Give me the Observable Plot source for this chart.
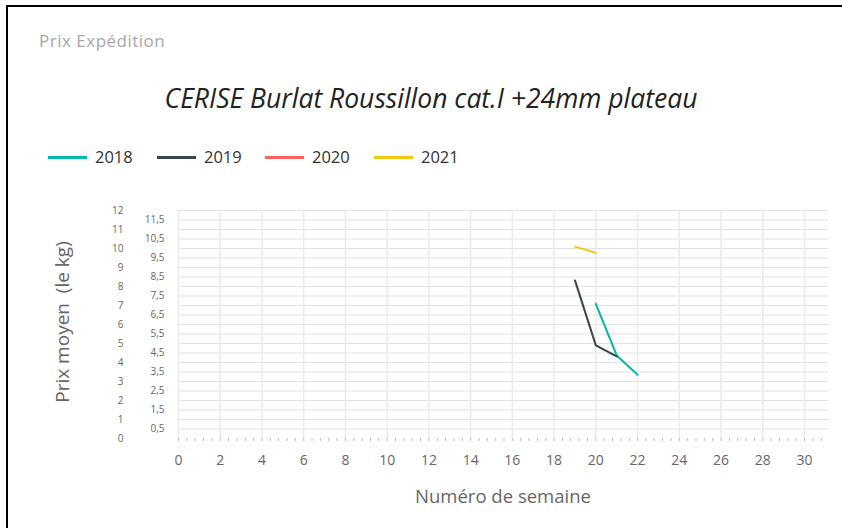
<!DOCTYPE html>
<html><head><meta charset="utf-8">
<script src="https://cdn.jsdelivr.net/npm/d3@7"></script>
<script src="https://cdn.jsdelivr.net/npm/@observablehq/plot@0.6"></script>
<style>
body{margin:0;background:#fff;font-family:"Open Sans","Noto Sans",sans-serif;}
#wrap{position:relative;width:842px;height:528px;overflow:hidden;}
#frame{position:absolute;left:6px;top:5px;right:-10px;bottom:-10px;border-left:2px solid #000;border-top:2px solid #000;}
.t{position:absolute;white-space:nowrap;}
#chart{position:absolute;left:0;top:0;}
</style></head>
<body><div id="wrap"><div id="frame"></div>
<div class="t" style="left:39px;top:29px;font-size:17px;color:#a6a6a6;letter-spacing:0.5px;">Prix Expédition</div>
<div class="t" style="left:0;width:862px;text-align:center;top:80px;font-size:26.5px;font-style:italic;color:#222;">CERISE Burlat Roussillon cat.I +24mm plateau</div>
<div id="legend"></div>
<div class="t" style="left:0;width:1006px;text-align:center;top:483px;font-size:18.5px;color:#666;">Numéro de semaine</div>
<div class="t" style="left:62px;top:322px;font-size:19px;color:#666;transform:translate(-50%,-50%) rotate(-90deg);">Prix moyen&nbsp; (le kg)</div>
<div id="chart"></div>
</div>
<script>
const years = ["2018","2019","2020","2021"];
const colors = ["#01B8AA","#374649","#FD625E","#F2C80F"];
const weeks2018 = [20,21,22];
const prices2018 = [7.09,4.37,3.35];
const weeks2019 = [19,20,21];
const prices2019 = [8.32,4.9,4.32];
const weeks2020 = [];
const prices2020 = [];
const weeks2021 = [19,20];
const prices2021 = [10.1,9.77];
const xTicks = d3.range(0,31,2);
const yIntTicks = d3.range(0,13,1);
const yHalfTicks = d3.range(0.5,12,1);

const series = [[weeks2018,prices2018],[weeks2019,prices2019],[weeks2020,prices2020],[weeks2021,prices2021]];
const data = series.flatMap(([w,p],i)=>w.map((x,j)=>({year:years[i],week:x,price:p[j]})));

const legendPos = [48,157,265,374];
const lg = document.getElementById("legend");
years.forEach((y,i)=>{
  const sw = document.createElement("div");
  sw.style.cssText = `position:absolute;left:${legendPos[i]}px;top:156px;width:39px;height:3px;background:${colors[i]}`;
  lg.appendChild(sw);
  const tx = document.createElement("div");
  tx.className="t";
  tx.style.cssText = `left:${legendPos[i]+47}px;top:145px;font-size:16.5px;color:#333;`;
  tx.textContent = y;
  lg.appendChild(tx);
});

const fmt = d => String(d).replace(".", ",");
const grid = d3.range(0.5,12.01,0.5);
const minor = d3.range(0,31.2,0.4);

const chart = Plot.plot({
  width: 842, height: 528,
  marginLeft: 178, marginTop: 210, marginRight: 14, marginBottom: 90,
  style: {fontFamily: '"Open Sans","Noto Sans",sans-serif', background: "transparent"},
  x: {domain: [0, 31.15], label: null},
  y: {domain: [0, 12], label: null},
  color: {domain: years, range: colors},
  marks: [
    Plot.ruleY(grid, {stroke: "#e2e2e2", strokeWidth: 1.2, strokeOpacity: 1}),
    Plot.ruleX(xTicks, {y1: 0, y2: 12, stroke: "#ebebeb", strokeWidth: 1.5}),
    Plot.axisX(minor, {tickSize: 3, text: null, stroke: "#bbb", tickPadding: 0, label: null}),
    Plot.axisX(xTicks, {tickSize: 0, tickPadding: 17, fontSize: 14, fill: "#666", label: null}),
    Plot.axisY(yIntTicks, {tickSize: 0, tickPadding: 55, fontSize: 10, fill: "#666", label: null}),
    Plot.axisY(yHalfTicks, {tickSize: 0, tickPadding: 14, fontSize: 10, fill: "#666", label: null, tickFormat: fmt}),
    Plot.line(data, {x: "week", y: "price", z: "year", stroke: "year", strokeWidth: 2})
  ]
});
document.getElementById("chart").appendChild(chart);
</script>
</body></html>
